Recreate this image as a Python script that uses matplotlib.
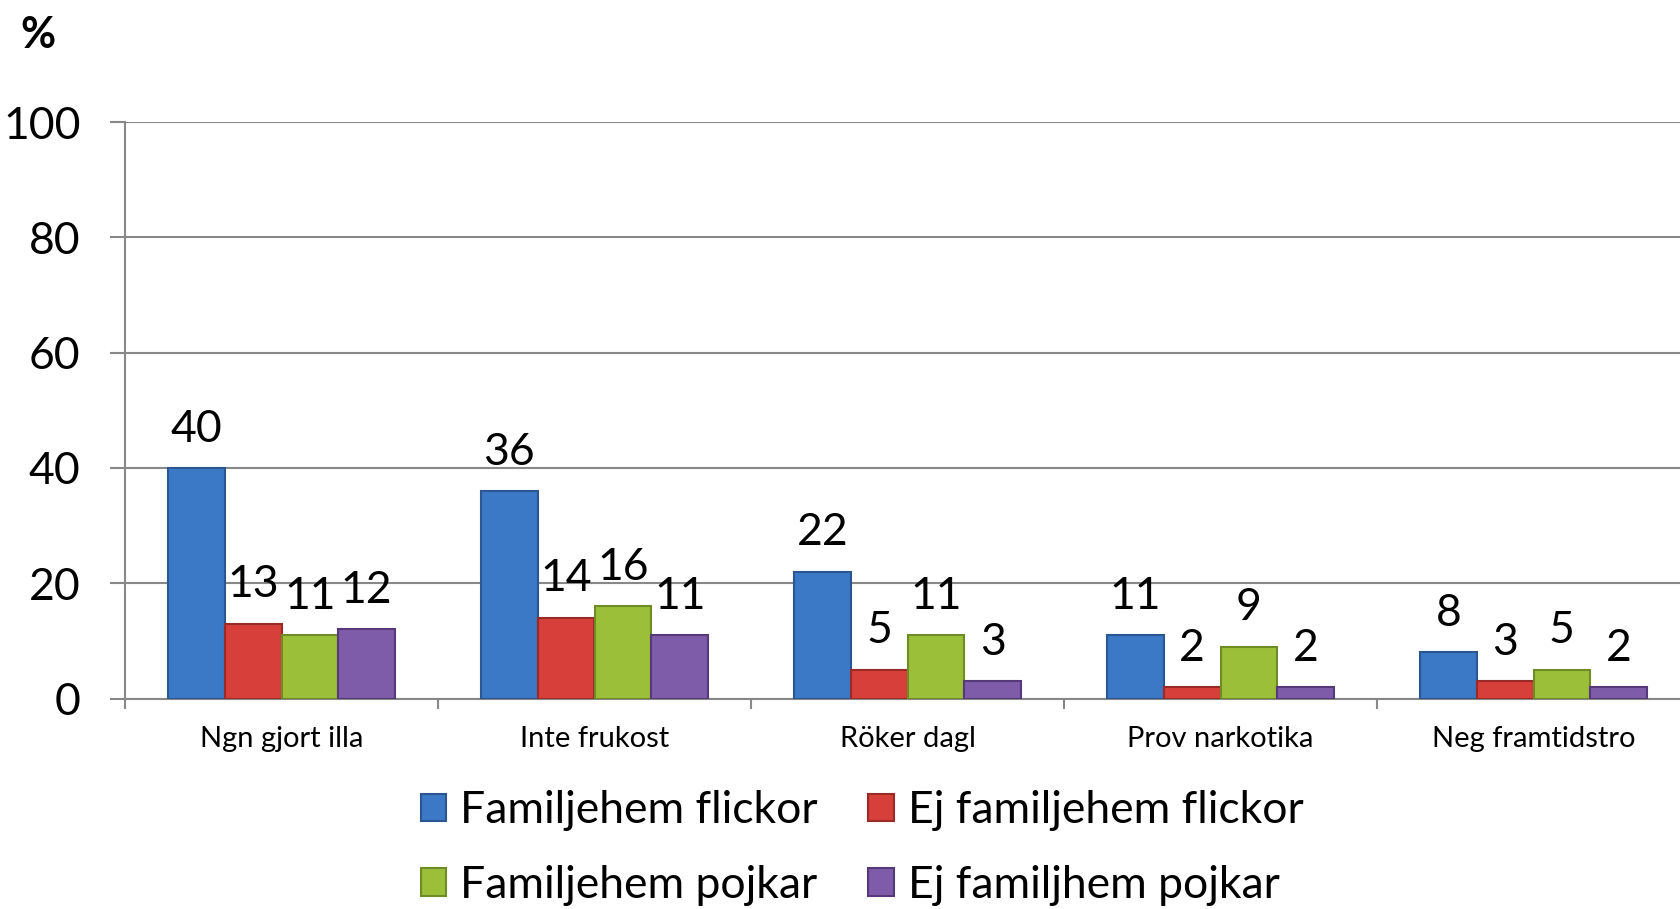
import matplotlib.pyplot as plt
import numpy as np

categories = ["Ngn gjort illa", "Inte frukost", "Röker dagl", "Prov narkotika", "Neg framtidstro"]
series_names = ["Familjehem flickor", "Ej familjehem flickor", "Familjehem pojkar", "Ej familjhem pojkar"]
fam_flickor = [40, 36, 22, 11, 8]
ej_fam_flickor = [13, 14, 5, 2, 3]
fam_pojkar = [11, 16, 11, 9, 5]
ej_fam_pojkar = [12, 11, 3, 2, 2]

colors = ["#3b78c6", "#d63f3a", "#9cbf3a", "#7f5ca9"]
edges = ["#2a5790", "#9a2a26", "#6f8c24", "#56397a"]

plt.rcParams['font.family'] = ['Lato', 'DejaVu Sans']

fig = plt.figure(figsize=(16.8, 9.09), dpi=100)
ax = fig.add_axes([125 / 1680, 1 - 698.6 / 909, (1690 - 125) / 1680, (698.6 - 122) / 909])

x = np.arange(len(categories))
w = 0.1815
all_series = [fam_flickor, ej_fam_flickor, fam_pojkar, ej_fam_pojkar]
for i, vals in enumerate(all_series):
    pos = x + (i - 1.5) * w
    ax.bar(pos, vals, width=w, color=colors[i], edgecolor=edges[i],
           linewidth=1.5, label=series_names[i], zorder=3)
    for xp, v in zip(pos, vals):
        ax.annotate(str(v), (xp, v), xytext=(0, 28), textcoords="offset points",
                    ha="center", va="center", fontsize=32, zorder=5)

ax.set_xlim(-0.5, 4.5)
ax.set_ylim(0, 100)
ax.set_yticks(range(0, 101, 20))
ax.tick_params(axis="y", labelsize=32, length=11, width=1.5, color="#888888", pad=21)
ax.set_xticks(np.arange(-0.5, 5, 1))
ax.set_xticklabels([])
ax.set_xticks(x, minor=True)
ax.set_xticklabels(categories, minor=True, fontsize=21)
ax.tick_params(axis="x", which="major", length=7, width=1.5, color="#888888")
ax.tick_params(axis="x", which="minor", length=0, pad=20)
ax.grid(axis="y", color="#888888", linewidth=1.5, zorder=0)
for s in ["top", "right"]:
    ax.spines[s].set_visible(False)
ax.spines["left"].set_color("#888888")
ax.spines["left"].set_linewidth(1.5)
ax.spines["bottom"].set_color("#888888")
ax.spines["bottom"].set_linewidth(1.5)

fig.text(38 / 1680, 1 - 35 / 909, "%", fontsize=31, fontweight="bold", ha="center", va="center")

handles, labels = ax.get_legend_handles_labels()
order = [0, 2, 1, 3]
leg = fig.legend([handles[k] for k in order], [labels[k] for k in order], ncol=2,
                 loc="center", bbox_to_anchor=(862 / 1680, 1 - 848 / 909), frameon=False,
                 fontsize=32, handlelength=0.58, handleheight=0.58, handletextpad=0.3,
                 columnspacing=1.15, labelspacing=0.75)

fig.savefig("out.png", dpi=100)
